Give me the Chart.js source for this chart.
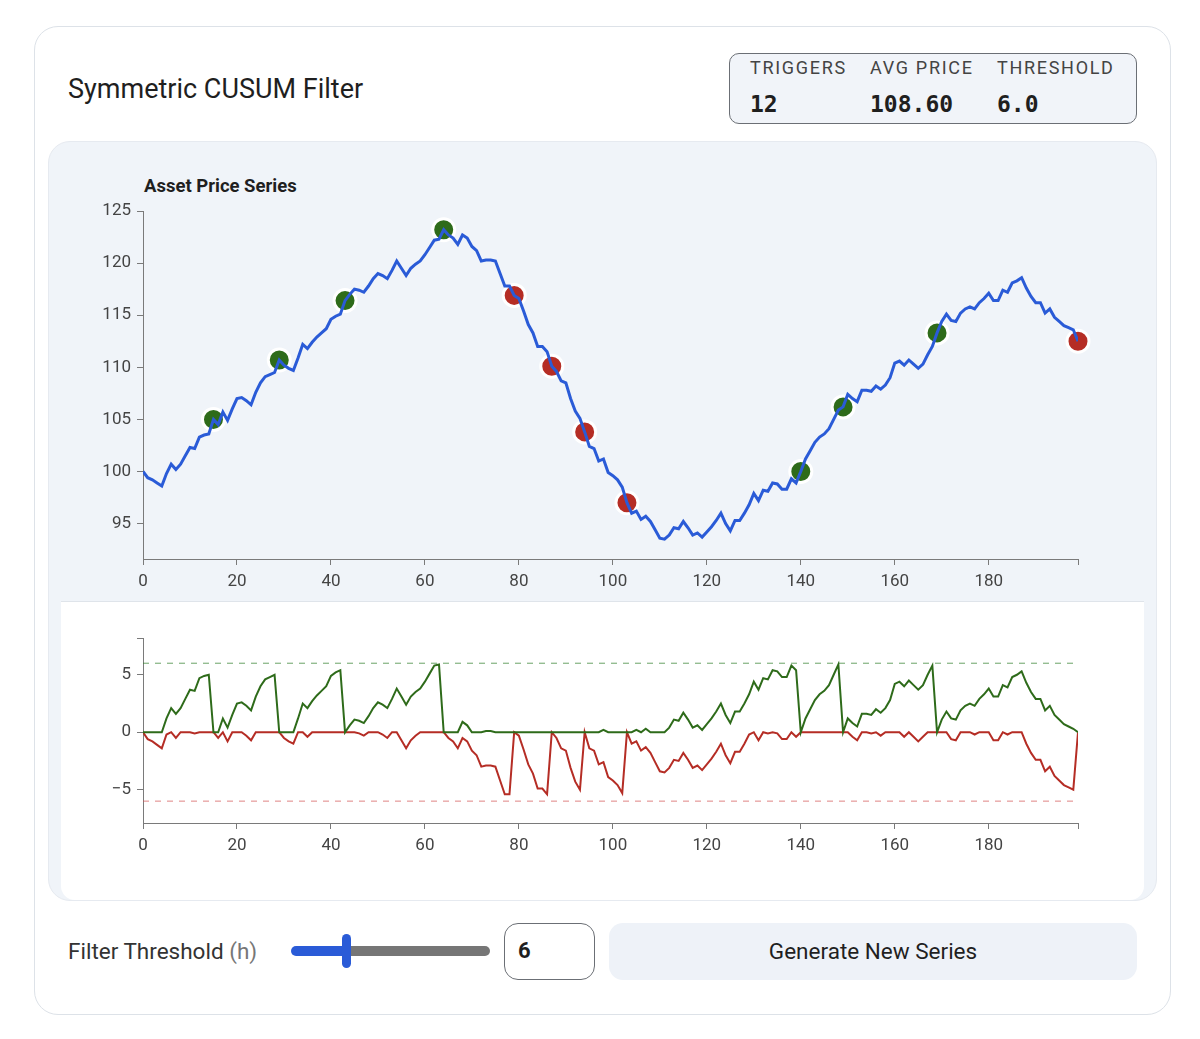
<!DOCTYPE html>
<html>
<head>
<meta charset="utf-8">
<script src="https://cdn.jsdelivr.net/npm/chart.js@4.4.1/dist/chart.umd.min.js"></script>
<style>
  body { margin: 0; width: 1200px; height: 1039px; background: #fff; font-family: Roboto, "Noto Sans", sans-serif; color: #1f1f1f; position: relative; overflow: hidden; }
  .abs { position: absolute; }
  .card { left: 34px; top: 26px; width: 1137px; height: 989px; box-sizing: border-box; border: 1.5px solid #dde2e8; border-radius: 24px; }
  .title { left: 68px; top: 73px; font-size: 27px; line-height: 32px; }
  .stats { left: 729px; top: 53px; width: 408px; height: 71px; box-sizing: border-box; border: 1.5px solid #6b6f75; border-radius: 10px; background: #f1f4f9; }
  .lab { font-size: 18px; letter-spacing: 1.7px; color: #444; line-height: 20px; top: 58px; }
  .val { font-family: "DejaVu Sans Mono", monospace; font-weight: bold; font-size: 23px; line-height: 26px; top: 91px; color: #1f1f1f; }
  .panel { left: 48px; top: 141px; width: 1109px; height: 760px; box-sizing: border-box; background: #f0f4f9; border: 1px solid #e6eaf0; border-radius: 22px; }
  .ctitle { left: 144px; top: 175px; font-size: 18.5px; font-weight: bold; line-height: 22px; }
  .lower { left: 61px; top: 601px; width: 1083px; height: 298px; background: #fff; border-top: 1px solid #dfe4ea; border-radius: 0 0 14px 14px; }
  .ctl { left: 68px; top: 937px; font-size: 22.5px; line-height: 28px; color: #333; }
  .ctl span { color: #777; }
  .track { height: 10px; top: 946px; border-radius: 5px; }
  .thumb { left: 342px; top: 934px; width: 9px; height: 34px; border-radius: 4.5px; background: #2a5bd7; }
  .numbox { left: 504px; top: 923px; width: 91px; height: 57px; box-sizing: border-box; border: 1.5px solid #6b6f75; border-radius: 14px; background: #fff; font-size: 22px; font-weight: bold; line-height: 54px; padding-left: 13px; }
  .btn { left: 609px; top: 923px; width: 528px; height: 57px; border-radius: 14px; background: #eef2f8; font-size: 22.5px; line-height: 57px; text-align: center; }
</style>
</head>
<body>
<div class="abs card"></div>
<div class="abs title">Symmetric CUSUM Filter</div>
<div class="abs stats"></div>
<div class="abs lab" style="left:750px">TRIGGERS</div>
<div class="abs lab" style="left:870px">AVG PRICE</div>
<div class="abs lab" style="left:997px">THRESHOLD</div>
<div class="abs val" style="left:750px">12</div>
<div class="abs val" style="left:870px">108.60</div>
<div class="abs val" style="left:997px">6.0</div>

<div class="abs panel"></div>
<div class="abs lower"></div>
<div class="abs ctitle">Asset Price Series</div>
<div class="abs" style="left:61px; top:150px; width:1083px; height:450px;"><canvas id="priceChart"></canvas></div>
<div class="abs" style="left:61px; top:610px; width:1083px; height:260px;"><canvas id="cusumChart"></canvas></div>

<div class="abs ctl">Filter Threshold <span>(h)</span></div>
<div class="abs track" style="left:291px; width:60px; background:#2a5bd7;"></div>
<div class="abs track" style="left:346px; width:144px; background:#767676;"></div>
<div class="abs thumb"></div>
<div class="abs numbox">6</div>
<div class="abs btn">Generate New Series</div>

<script>
const threshold = 6;

const steps = Array.from({ length: 200 }, (_, i) => i);

const price = [
  100.0, 99.4, 99.2, 98.9, 98.6, 99.8, 100.7, 100.2, 100.7, 101.5,
  102.3, 102.2, 103.3, 103.5, 103.6, 105.0, 104.5, 105.7, 104.9, 106.0,
  107.0, 107.1, 106.8, 106.4, 107.6, 108.5, 109.1, 109.3, 109.5, 110.7,
  110.2, 109.9, 109.7, 110.9, 112.2, 111.8, 112.4, 112.9, 113.3, 113.7,
  114.6, 114.9, 115.1, 116.4, 117.0, 117.5, 117.4, 117.2, 117.8, 118.5,
  119.0, 118.8, 118.5, 119.3, 120.2, 119.5, 118.8, 119.5, 119.9, 120.2,
  120.8, 121.5, 122.2, 122.3, 123.2, 122.7, 122.4, 121.8, 122.7, 122.4,
  121.6, 121.2, 120.2, 120.3, 120.3, 120.2, 119.0, 117.8, 117.8, 116.9,
  116.6, 115.4, 114.1, 113.3, 112.0, 112.0, 111.5, 110.1, 109.6, 108.7,
  108.5, 107.0, 105.8, 105.1, 103.8, 102.4, 102.2, 101.0, 101.2, 99.9,
  99.6, 99.2, 98.5, 97.0, 96.0, 96.2, 95.4, 95.7, 95.2, 94.4,
  93.6, 93.5, 93.9, 94.6, 94.5, 95.2, 94.6, 93.9, 94.1, 93.7,
  94.2, 94.7, 95.3, 96.0, 95.0, 94.3, 95.3, 95.3, 96.0, 96.8,
  97.9, 97.2, 98.2, 98.1, 98.9, 98.8, 98.3, 98.3, 99.3, 98.9,
  100.0, 101.2, 102.0, 102.8, 103.3, 103.6, 104.1, 105.0, 105.9, 106.2,
  107.4, 107.0, 106.7, 107.8, 107.8, 107.7, 108.2, 107.9, 108.3, 109.0,
  110.4, 110.6, 110.2, 110.7, 110.3, 109.9, 110.3, 111.2, 112.0, 113.3,
  114.4, 115.1, 114.5, 114.4, 115.2, 115.6, 115.8, 115.6, 116.2, 116.6,
  117.1, 116.4, 116.4, 117.4, 117.2, 118.1, 118.3, 118.6, 117.6, 116.8,
  116.2, 116.2, 115.2, 115.6, 114.8, 114.4, 114.0, 113.8, 113.6, 112.5
];

const sPos = [
  0, 0, 0, 0, 0, 1.2, 2.1, 1.6, 2.1, 2.9,
  3.7, 3.6, 4.7, 4.9, 5.0, 0, 0, 1.2, 0.4, 1.5,
  2.5, 2.6, 2.3, 1.9, 3.1, 4.0, 4.6, 4.8, 5.0, 0,
  0, 0, 0, 1.2, 2.5, 2.1, 2.7, 3.2, 3.6, 4.0,
  4.9, 5.2, 5.4, 0, 0.6, 1.1, 1.0, 0.8, 1.4, 2.1,
  2.6, 2.4, 2.1, 2.9, 3.8, 3.1, 2.4, 3.1, 3.5, 3.8,
  4.4, 5.1, 5.8, 5.9, 0, 0, 0, 0, 0.9, 0.6,
  0, 0, 0, 0.1, 0.1, 0, 0, 0, 0, 0,
  0, 0, 0, 0, 0, 0, 0, 0, 0, 0,
  0, 0, 0, 0, 0, 0, 0, 0, 0.2, 0,
  0, 0, 0, 0, 0, 0.2, 0, 0.3, 0, 0,
  0, 0, 0.4, 1.1, 1.0, 1.7, 1.1, 0.4, 0.6, 0.2,
  0.7, 1.2, 1.8, 2.5, 1.5, 0.8, 1.8, 1.8, 2.5, 3.3,
  4.4, 3.7, 4.7, 4.6, 5.4, 5.3, 4.8, 4.8, 5.8, 5.4,
  0, 1.2, 2.0, 2.8, 3.3, 3.6, 4.1, 5.0, 5.9, 0,
  1.2, 0.8, 0.5, 1.6, 1.6, 1.5, 2.0, 1.7, 2.1, 2.8,
  4.2, 4.4, 4.0, 4.5, 4.1, 3.7, 4.1, 5.0, 5.8, 0,
  1.1, 1.8, 1.2, 1.1, 1.9, 2.3, 2.5, 2.3, 2.9, 3.3,
  3.8, 3.1, 3.1, 4.1, 3.9, 4.8, 5.0, 5.3, 4.3, 3.5,
  2.9, 2.9, 1.9, 2.3, 1.5, 1.1, 0.7, 0.5, 0.3, 0
];

const sNeg = [
  0, -0.6, -0.8, -1.1, -1.4, -0.2, 0, -0.5, 0, 0,
  0, -0.1, 0, 0, 0, 0, -0.5, 0, -0.8, 0,
  0, 0, -0.3, -0.7, 0, 0, 0, 0, 0, 0,
  -0.5, -0.8, -1.0, 0, 0, -0.4, 0, 0, 0, 0,
  0, 0, 0, 0, 0, 0, -0.1, -0.3, 0, 0,
  0, -0.2, -0.5, 0, 0, -0.7, -1.4, -0.7, -0.3, 0,
  0, 0, 0, 0, 0, -0.5, -0.8, -1.4, -0.5, -0.8,
  -1.6, -2.0, -3.0, -2.9, -2.9, -3.0, -4.2, -5.4, -5.4, 0,
  -0.3, -1.5, -2.8, -3.6, -4.9, -4.9, -5.4, 0, -0.5, -1.4,
  -1.6, -3.1, -4.3, -5.0, 0, -1.4, -1.6, -2.8, -2.6, -3.9,
  -4.2, -4.6, -5.3, 0, -1.0, -0.8, -1.6, -1.3, -1.8, -2.6,
  -3.4, -3.5, -3.1, -2.4, -2.5, -1.8, -2.4, -3.1, -2.9, -3.3,
  -2.8, -2.3, -1.7, -1.0, -2.0, -2.7, -1.7, -1.7, -1.0, -0.2,
  0, -0.7, 0, -0.1, 0, -0.1, -0.6, -0.6, 0, -0.4,
  0, 0, 0, 0, 0, 0, 0, 0, 0, 0,
  0, -0.4, -0.7, 0, 0, -0.1, 0, -0.3, 0, 0,
  0, 0, -0.4, 0, -0.4, -0.8, -0.4, 0, 0, 0,
  0, 0, -0.6, -0.7, 0, 0, 0, -0.2, 0, 0,
  0, -0.7, -0.7, 0, -0.2, 0, 0, 0, -1.0, -1.8,
  -2.4, -2.4, -3.4, -3.0, -3.8, -4.2, -4.6, -4.8, -5.0, 0
];

const upTriggers = [15, 29, 43, 64, 140, 149, 169];
const downTriggers = [79, 87, 94, 103, 199];

const xTicks = [0, 20, 40, 60, 80, 100, 120, 140, 160, 180];
const priceTicks = [95, 100, 105, 110, 115, 120, 125];
const cusumTicks = [-5, 0, 5];

const axisColor = '#7a7a7a';
const tickFont = { family: 'Roboto', size: 17 };
const tickColor = '#444';

function xScale() {
  return {
    type: 'linear',
    min: 0,
    max: 199,
    border: { display: true, color: axisColor, width: 1 },
    grid: { display: true, drawOnChartArea: false, drawTicks: true, tickLength: 6, color: axisColor },
    afterBuildTicks: s => { s.ticks = xTicks.concat([199]).map(v => ({ value: v })); },
    ticks: {
      autoSkip: false, maxRotation: 0, padding: 7, color: tickColor, font: tickFont,
      callback: v => (xTicks.includes(v) ? String(v) : '')
    }
  };
}

const pricePts = price.map((v, i) => ({ x: steps[i], y: v }));

new Chart(document.getElementById('priceChart'), {
  type: 'line',
  data: {
    datasets: [
      {
        label: 'Price',
        data: pricePts,
        borderColor: '#2a5bd7',
        borderWidth: 3,
        pointRadius: 0,
        tension: 0
      },
      {
        type: 'scatter',
        label: 'Up',
        data: upTriggers.map(i => ({ x: i, y: price[i] })),
        backgroundColor: '#2e6b1a',
        borderColor: '#ffffff',
        borderWidth: 3,
        pointRadius: 11,
        hoverRadius: 11,
        clip: false
      },
      {
        type: 'scatter',
        label: 'Down',
        data: downTriggers.map(i => ({ x: i, y: price[i] })),
        backgroundColor: '#b52d25',
        borderColor: '#ffffff',
        borderWidth: 3,
        pointRadius: 11,
        hoverRadius: 11,
        clip: false
      }
    ]
  },
  options: {
    responsive: true,
    maintainAspectRatio: false,
    animation: false,
    layout: { padding: { top: 61, right: 66, left: 0, bottom: 0 } },
    plugins: { legend: { display: false }, tooltip: { enabled: false } },
    scales: {
      x: Object.assign(xScale(), { afterFit: s => { s.height = 41; } }),
      y: {
        min: 91.6,
        max: 125,
        border: { display: true, color: axisColor, width: 1 },
        grid: { display: true, drawOnChartArea: false, drawTicks: true, tickLength: 6, color: axisColor },
        afterBuildTicks: s => { s.ticks = priceTicks.map(v => ({ value: v })); },
        afterFit: s => { s.width = 82; },
        ticks: { padding: 6, color: tickColor, font: tickFont }
      }
    }
  }
});

new Chart(document.getElementById('cusumChart'), {
  type: 'line',
  data: {
    datasets: [
      {
        label: 'S+',
        data: sPos.map((v, i) => ({ x: steps[i], y: v })),
        borderColor: '#2e6b1a',
        borderWidth: 2,
        pointRadius: 0,
        tension: 0
      },
      {
        label: 'S-',
        data: sNeg.map((v, i) => ({ x: steps[i], y: v })),
        borderColor: '#b52d25',
        borderWidth: 2,
        pointRadius: 0,
        tension: 0
      },
      {
        label: '+h',
        data: [{ x: 0, y: threshold }, { x: 199, y: threshold }],
        borderColor: 'rgba(46,125,40,0.55)',
        borderWidth: 1.3,
        borderDash: [6, 6],
        pointRadius: 0
      },
      {
        label: '-h',
        data: [{ x: 0, y: -threshold }, { x: 199, y: -threshold }],
        borderColor: 'rgba(210,80,80,0.55)',
        borderWidth: 1.3,
        borderDash: [6, 6],
        pointRadius: 0
      }
    ]
  },
  options: {
    responsive: true,
    maintainAspectRatio: false,
    animation: false,
    layout: { padding: { top: 28, right: 66, left: 0, bottom: 0 } },
    plugins: { legend: { display: false }, tooltip: { enabled: false } },
    scales: {
      x: Object.assign(xScale(), { afterFit: s => { s.height = 47; } }),
      y: {
        min: -7.9,
        max: 8.2,
        border: { display: true, color: axisColor, width: 1 },
        grid: { display: true, drawOnChartArea: false, drawTicks: true, tickLength: 6, color: axisColor },
        afterBuildTicks: s => { s.ticks = cusumTicks.concat([8.2]).map(v => ({ value: v })); },
        afterFit: s => { s.width = 82; },
        ticks: {
          padding: 6, color: tickColor, font: tickFont,
          callback: v => (cusumTicks.includes(v) ? (v < 0 ? '\u2212' + Math.abs(v) : String(v)) : '')
        }
      }
    }
  }
});
</script>
</body>
</html>
